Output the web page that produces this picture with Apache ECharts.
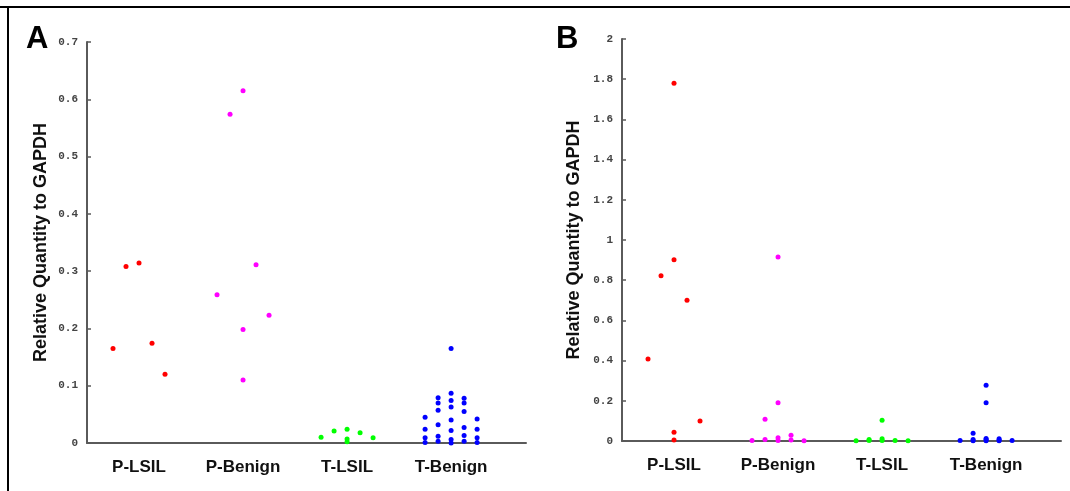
<!DOCTYPE html>
<html><head><meta charset="utf-8">
<script src="https://cdn.jsdelivr.net/npm/echarts@6/dist/echarts.min.js"></script>
<style>html,body{margin:0;padding:0;background:#fff}#c{width:1070px;height:491px}</style>
</head><body><div id="c"></div>
<script>
const categories = ['P-LSIL', 'P-Benign', 'T-LSIL', 'T-Benign'];
const colors = ['#ff0000', '#ff00ff', '#00ff00', '#0000ff'];
const yTitle = 'Relative Quantity to GAPDH';
// [jitter column, value]
const aPLsil = [[-2,0.165],[-1,0.308],[0,0.314],[1,0.174],[2,0.120]];
const aPBenign = [[-2,0.259],[-1,0.574],[0,0.615],[0,0.198],[0,0.110],[1,0.311],[2,0.223]];
const aTLsil = [[-2,0.010],[-1,0.021],[0,0.024],[0,0.007],[0,0.002],[1,0.018],[2,0.009]];
const aTBenign = [[-2,0.045],[-2,0.024],[-2,0.009],[-2,0.001],
  [-1,0.079],[-1,0.070],[-1,0.057],[-1,0.032],[-1,0.012],[-1,0.003],
  [0,0.165],[0,0.087],[0,0.074],[0,0.063],[0,0.040],[0,0.022],[0,0.006],[0,0.000],
  [1,0.078],[1,0.070],[1,0.055],[1,0.027],[1,0.013],[1,0.003],
  [2,0.042],[2,0.024],[2,0.009],[2,0.001]];
const bPLsil = [[-2,0.408],[-1,0.822],[0,1.78],[0,0.902],[0,0.043],[0,0.005],[1,0.700],[2,0.100]];
const bPBenign = [[-2,0.003],[-1,0.108],[-1,0.008],[0,0.915],[0,0.19],[0,0.016],[0,0.002],[1,0.028],[1,0.005],[2,0.001]];
const bTLsil = [[-2,0.001],[-1,0.008],[-1,0.002],[0,0.103],[0,0.011],[0,0.002],[1,0.003],[2,0.001]];
const bTBenign = [[-2,0.003],[-1,0.038],[-1,0.008],[-1,0.001],[0,0.277],[0,0.19],[0,0.013],[0,0.008],[0,0.001],[1,0.011],[1,0.005],[1,0.001],[2,0.003]];
const panelA = [aPLsil, aPBenign, aTLsil, aTBenign];
const panelB = [bPLsil, bPBenign, bTLsil, bTBenign];

const JIT = 0.125;
function pts(data, ci) { return data.map(d => [ci + 1 + d[0] * JIT, d[1]]); }

const axisColor = '#5a5a5a';
function xAx(gi) {
  return {
    type: 'value', gridIndex: gi, min: 0.5, max: 4.72,
    axisLine: { show: true, onZero: false, lineStyle: { color: axisColor, width: 2 } },
    axisTick: { show: false }, splitLine: { show: false },
    axisLabel: {
      customValues: [1, 2, 3, 4], margin: 16,
      formatter: v => categories[Math.round(v) - 1] || '',
      fontFamily: 'Liberation Sans, Arial', fontWeight: 'bold', fontSize: 17, color: '#111'
    }
  };
}
function yAx(gi, max, interval, gap) {
  return {
    type: 'value', gridIndex: gi, min: 0, max: max, interval: interval,
    name: yTitle, nameLocation: 'middle', nameGap: gap, nameRotate: 90,
    nameTextStyle: { fontFamily: 'Liberation Sans, Arial', fontWeight: 'bold', fontSize: 18, color: '#111' },
    axisLine: { show: true, lineStyle: { color: axisColor, width: 2 } },
    axisTick: { show: true, inside: true, length: 4, lineStyle: { color: axisColor, width: 1.5 } },
    splitLine: { show: false },
    axisLabel: { margin: 9, fontFamily: 'Liberation Mono, DejaVu Sans Mono', fontWeight: 'bold', fontSize: 11, color: '#444' }
  };
}
const series = [];
[panelA, panelB].forEach((panel, gi) => {
  panel.forEach((d, ci) => {
    series.push({
      type: 'scatter', xAxisIndex: gi, yAxisIndex: gi, clip: false,
      symbol: 'circle', symbolSize: 5, data: pts(d, ci),
      itemStyle: { color: colors[ci], opacity: 1 }
    });
  });
});

const chart = echarts.init(document.getElementById('c'), null, { renderer: 'canvas' });
chart.setOption({
  animation: false,
  backgroundColor: '#fff',
  grid: [
    { left: 87, top: 42, width: 439, height: 401 },
    { left: 622, top: 39, width: 439, height: 402 }
  ],
  xAxis: [xAx(0), xAx(1)],
  yAxis: [yAx(0, 0.7, 0.1, 37), yAx(1, 2, 0.2, 39)],
  series: series,
  graphic: [
    { type: 'line', shape: { x1: 0, y1: 7, x2: 1070, y2: 7 }, style: { stroke: '#000', lineWidth: 2 } },
    { type: 'line', shape: { x1: 8, y1: 7, x2: 8, y2: 491 }, style: { stroke: '#000', lineWidth: 2 } },
    { type: 'text', left: 26, top: 24, style: { text: 'A', font: 'bold 31px "Liberation Sans", Arial', fill: '#000' } },
    { type: 'text', left: 556, top: 24, style: { text: 'B', font: 'bold 31px "Liberation Sans", Arial', fill: '#000' } }
  ]
});
</script></body></html>
